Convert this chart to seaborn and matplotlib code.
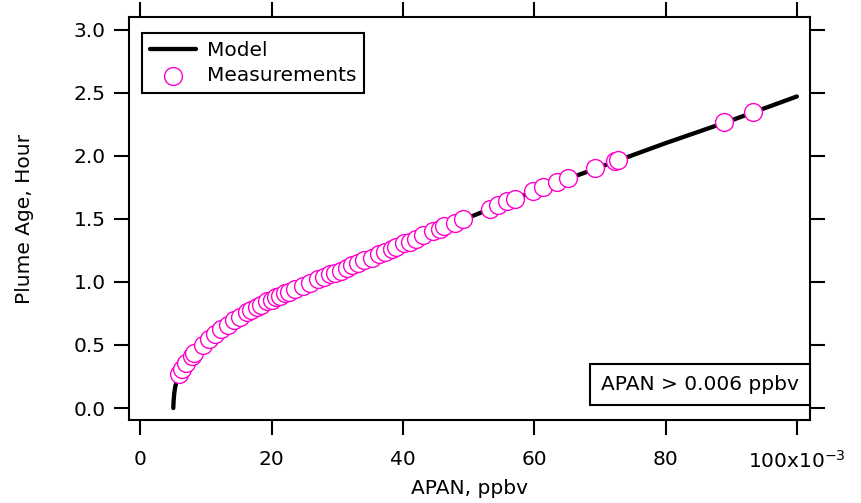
import matplotlib
matplotlib.use("Agg")
import matplotlib.pyplot as plt
import pandas as pd
import seaborn as sns

# Model curve (APAN in 1e-3 ppbv, plume age in hours)
model_apan = [5.0, 5.05, 5.15, 5.3, 5.5, 5.9, 6.5, 7.5, 9.0, 11.0, 13.0, 15.0, 17.5,
              20.0, 25.0, 30.0, 35.0, 40.0, 45.0, 50.0, 60.0, 70.0, 80.0, 90.0, 100.0]
model_age = [0.0, 0.06, 0.12, 0.17, 0.21, 0.27, 0.32, 0.39, 0.48, 0.58, 0.66, 0.73, 0.80,
             0.86, 0.98, 1.08, 1.19, 1.30, 1.41, 1.51, 1.72, 1.91, 2.10, 2.28, 2.47]

# Measurements
meas_apan = [5.9, 6.4, 7.0, 7.8, 8.2, 9.5, 10.5, 11.3, 12.3, 13.3, 14.3, 15.1, 16.2, 16.9,
             17.7, 18.4, 19.2, 20.0, 20.6, 21.3, 22.0, 22.6, 23.5, 24.7, 25.8, 27.0, 27.9,
             28.8, 29.7, 30.6, 31.4, 32.3, 33.1, 34.1, 35.2, 36.4, 37.3, 38.3, 39.0, 40.2,
             41.0, 41.9, 43.0, 44.5, 45.6, 46.3, 47.9, 49.2, 53.2, 54.4, 55.9, 57.0, 59.8,
             61.3, 63.4, 65.1, 69.2, 72.3, 72.7, 88.9, 93.3]
meas_age = [0.27, 0.31, 0.36, 0.41, 0.44, 0.50, 0.55, 0.59, 0.63, 0.66, 0.70, 0.72, 0.76, 0.78,
            0.80, 0.82, 0.85, 0.86, 0.88, 0.89, 0.91, 0.92, 0.94, 0.97, 0.99, 1.02, 1.04,
            1.06, 1.07, 1.09, 1.11, 1.13, 1.15, 1.17, 1.19, 1.22, 1.24, 1.26, 1.28, 1.31,
            1.32, 1.34, 1.37, 1.40, 1.42, 1.44, 1.47, 1.50, 1.58, 1.61, 1.64, 1.66, 1.72,
            1.75, 1.79, 1.82, 1.90, 1.96, 1.97, 2.27, 2.35]

x_ticks = [0, 20, 40, 60, 80, 100]
x_tick_labels = ["0", "20", "40", "60", "80", "100x10$^{-3}$"]
y_ticks = [0.0, 0.5, 1.0, 1.5, 2.0, 2.5, 3.0]

df_model = pd.DataFrame({"apan": model_apan, "age": model_age})
df_meas = pd.DataFrame({"apan": meas_apan, "age": meas_age})

sns.set_style("ticks")
plt.rcParams["font.family"] = ["DejaVu Sans"]
plt.rcParams["mathtext.default"] = "regular"
plt.rcParams["text.color"] = "black"
plt.rcParams["axes.labelcolor"] = "black"

fs = 14.5
fig = plt.figure(figsize=(8.61, 5.03), dpi=100)
ax = fig.add_axes([129 / 861, 1 - 420 / 503, (810 - 129) / 861, (420 - 17) / 503])

magenta = "#FF00CC"
sns.lineplot(data=df_model, x="apan", y="age", ax=ax, color="black", linewidth=3.1,
             sort=False, estimator=None, label="Model", zorder=2)
sns.scatterplot(data=df_meas, x="apan", y="age", ax=ax, marker="o", s=165,
                facecolor="white", edgecolor=magenta, linewidth=1.0,
                label="Measurements", zorder=3)

ax.set_xlim(-1.75, 102)
ax.set_ylim(-0.095, 3.10)
ax.set_xticks(x_ticks)
ax.set_xticklabels(x_tick_labels)
ax.set_yticks(y_ticks)
ax.set_yticklabels([f"{v:.1f}" for v in y_ticks])

for side in ["left", "right", "top", "bottom"]:
    ax.spines[side].set_visible(True)
    ax.spines[side].set_linewidth(1.5)
    ax.spines[side].set_color("black")

ax.tick_params(axis="both", direction="out", length=10.8, width=1.5, colors="black",
               labelcolor="black", labelsize=fs, top=True, right=True,
               labeltop=False, labelright=False)
ax.tick_params(axis="x", pad=10.5)
ax.tick_params(axis="y", pad=6)

ax.set_xlabel("APAN, ppbv", fontsize=fs, color="black")
ax.set_ylabel("Plume Age, Hour", fontsize=fs, color="black")
ax.xaxis.set_label_coords(0.5, -0.146)
ax.yaxis.set_label_coords(-0.14, 0.5)

leg = ax.legend(loc="upper left", bbox_to_anchor=(0.019, 0.96), borderaxespad=0,
                fontsize=fs, frameon=True, fancybox=False, framealpha=1,
                edgecolor="black", handlelength=2.3, handletextpad=0.55,
                labelspacing=0.33, borderpad=0.38)
leg.get_frame().set_linewidth(1.5)
for t in leg.get_texts():
    t.set_color("black")

ax.text(0.984, 0.0645, "APAN > 0.006 ppbv", transform=ax.transAxes, ha="right",
        va="bottom", fontsize=fs, color="black", zorder=5,
        bbox=dict(boxstyle="square,pad=0.55", facecolor="white", edgecolor="black",
                  linewidth=1.5))

fig.savefig("out.png", dpi=100)
